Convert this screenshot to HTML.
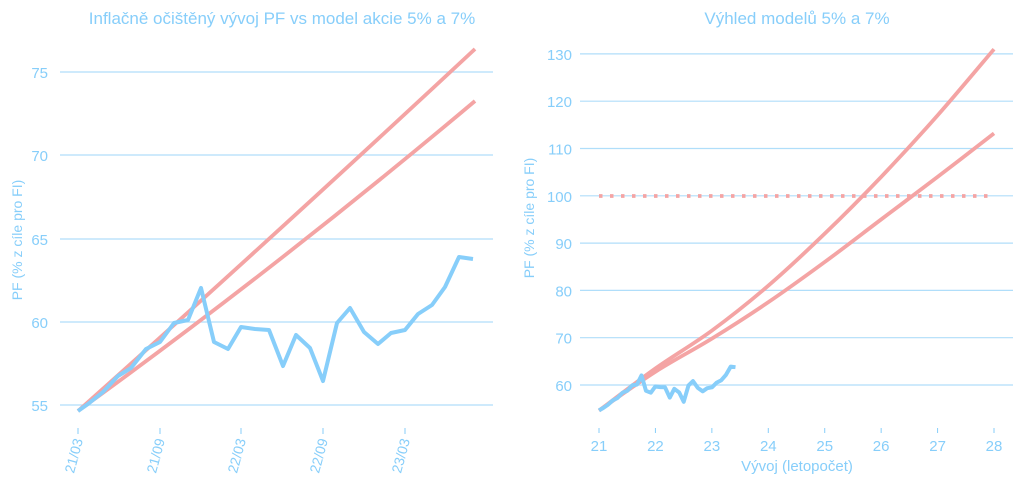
<!DOCTYPE html><html><head><meta charset="utf-8"><style>body{margin:0;background:#fff}svg{display:block;font-family:"Liberation Sans",sans-serif}</style></head><body>
<svg id="s" width="1024" height="491" viewBox="0 0 1024 491"></svg>
<script>
const B="#87CEFA",R="#F4A4A4",G="#B0DEFA";
let h='';
h+=`<text x="282" y="24" font-size="17" fill="${B}" text-anchor="middle">Inflačně očištěný vývoj PF vs model akcie 5% a 7%</text>`;
h+=`<text x="797" y="24" font-size="17" fill="${B}" text-anchor="middle">Výhled modelů 5% a 7%</text>`;
[[55,405],[60,322],[65,239],[70,155],[75,72]].forEach(([v,y])=>{h+=`<line x1="60" x2="493" y1="${y}" y2="${y}" stroke="${G}" stroke-width="1.2"/><text x="48" y="${y+6}" font-size="15" fill="${B}" text-anchor="end">${v}</text>`;});
[[78,'21/03'],[160,'21/09'],[241,'22/03'],[323,'22/09'],[405,'23/03']].forEach(([x,t])=>{h+=`<line x1="${x}" x2="${x}" y1="428" y2="434" stroke="${B}"/><text transform="translate(${x+5},440) rotate(-75)" font-size="14" fill="${B}" text-anchor="end">${t}</text>`;});
h+=`<text transform="translate(22,240) rotate(-90)" font-size="14" fill="${B}" text-anchor="middle">PF (% z cíle pro FI)</text>`;
[60,70,80,90,100,110,120,130].forEach(v=>{const y=385-(v-60)*4.73;h+=`<line x1="580" x2="1013" y1="${y}" y2="${y}" stroke="${G}" stroke-width="1.2"/><text x="572" y="${y+6}" font-size="15" fill="${B}" text-anchor="end">${v}</text>`;});
for(let i=0;i<8;i++){const x=599+i*56.43;h+=`<line x1="${x}" x2="${x}" y1="428" y2="433" stroke="${B}"/><text x="${x}" y="451" font-size="15" fill="${B}" text-anchor="middle">${21+i}</text>`;}
h+=`<text x="797" y="471" font-size="15" fill="${B}" text-anchor="middle">Vývoj (letopočet)</text>`;
h+=`<text transform="translate(534,218) rotate(-90)" font-size="14" fill="${B}" text-anchor="middle">PF (% z cíle pro FI)</text>`;
h+=`<path d="M78,411 Q270,240 475,49" fill="none" stroke="${R}" stroke-width="3.8"/>`;
h+=`<path d="M78,411 Q280,265 475,101" fill="none" stroke="${R}" stroke-width="3.8"/>`;
const L=[[78,411],[88,404],[103,392],[118,376],[131,368],[146,349],[160,342],[174,323],[188,320],[201,288],[214,342],[228,349],[241,327],[255,329],[269,330],[283,366],[296,335],[310,348],[323,381],[337,323],[350,308],[364,332],[378,344],[391,333],[405,330],[418,314],[432,305],[445,287],[459,257],[473,259]];
h+=`<polyline points="${L.map(p=>p.join(',')).join(' ')}" fill="none" stroke="${B}" stroke-width="4" stroke-linejoin="round"/>`;
h+=`<line x1="599" x2="990" y1="196" y2="196" stroke="${R}" stroke-width="3.8" stroke-dasharray="3.5,7.5"/>`;
const toP=vs=>vs.map((v,i)=>[599+i*56.43,385-(v-60)*4.73]);
const r7=toP([54.6,63.5,71.5,81,92,104,117,131]);
const r5=toP([54.6,62.8,69.8,77.5,86,95,104,113.2]);
const cr=a=>{let d=`M${a[0][0]},${a[0][1]}`;for(let i=0;i<a.length-1;i++){const p0=a[Math.max(0,i-1)],p1=a[i],p2=a[i+1],p3=a[Math.min(a.length-1,i+2)];d+=` C${p1[0]+(p2[0]-p0[0])/6},${p1[1]+(p2[1]-p0[1])/6} ${p2[0]-(p3[0]-p1[0])/6},${p2[1]-(p3[1]-p1[1])/6} ${p2[0]},${p2[1]}`;}return d};
h+=`<path d="${cr(r7)}" fill="none" stroke="${R}" stroke-width="3.8"/>`;
h+=`<path d="${cr(r5)}" fill="none" stroke="${R}" stroke-width="3.8"/>`;
const RR=L.map(([x,y])=>{const v=55+(405-y)/16.65;return [(599+(x-78)*0.3456).toFixed(1),(385-(v-60)*4.73).toFixed(1)]});
h+=`<polyline points="${RR.map(p=>p.join(',')).join(' ')}" fill="none" stroke="${B}" stroke-width="4" stroke-linejoin="round"/>`;
document.getElementById('s').innerHTML=h;
</script></body></html>
